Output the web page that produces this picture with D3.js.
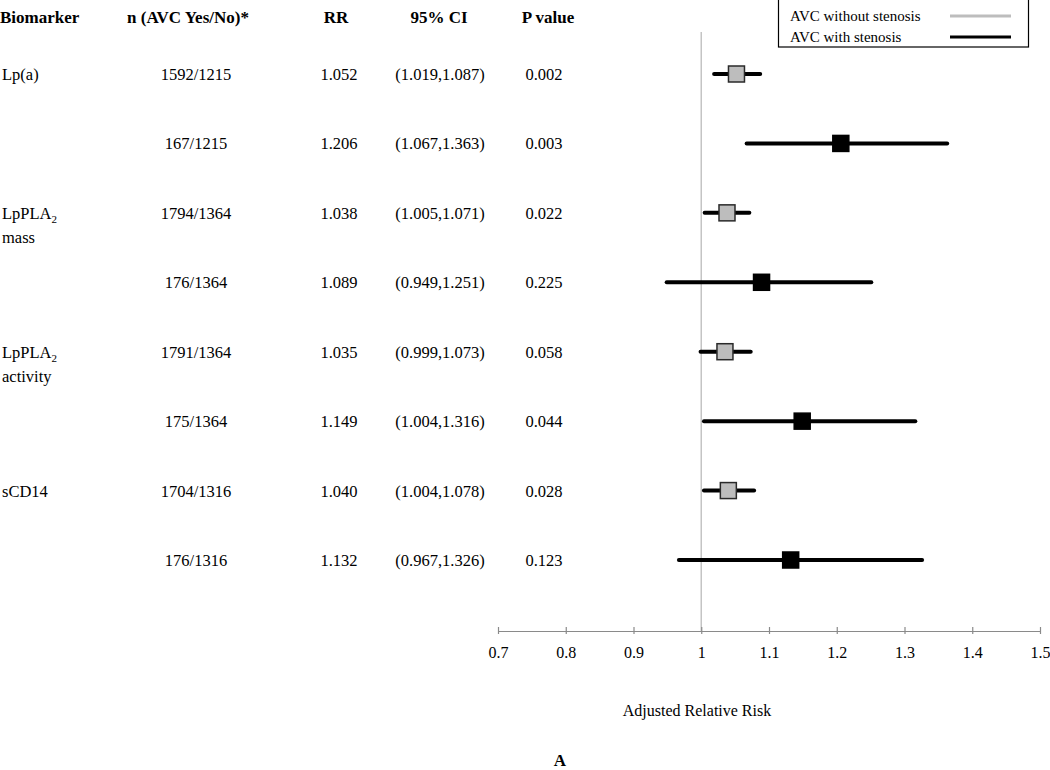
<!DOCTYPE html>
<html>
<head>
<meta charset="utf-8">
<script src="https://cdn.jsdelivr.net/npm/d3@7"></script>
<style>
  body { margin: 0; background: #fff; }
  svg { display: block; font-family: "Liberation Serif", "Times New Roman", serif; }
</style>
</head>
<body>
<svg id="chart" width="1050" height="770"></svg>
<script>
// data
const rowKeys = ["lpa1", "lpa2", "mass1", "mass2", "act1", "act2", "cd1", "cd2"];
const biomarkerLines = [["Lp(a)"], null, ["LpPLA_2", "mass"], null, ["LpPLA_2", "activity"], null, ["sCD14"], null];
const groupOfRow = [0, 1, 0, 1, 0, 1, 0, 1];
const nCounts = ["1592/1215", "167/1215", "1794/1364", "176/1364", "1791/1364", "175/1364", "1704/1316", "176/1316"];
const rr = [1.052, 1.206, 1.038, 1.089, 1.035, 1.149, 1.040, 1.132];
const ciLow = [1.019, 1.067, 1.005, 0.949, 0.999, 1.004, 1.004, 0.967];
const ciHigh = [1.087, 1.363, 1.071, 1.251, 1.073, 1.316, 1.078, 1.326];
const pValues = ["0.002", "0.003", "0.022", "0.225", "0.058", "0.044", "0.028", "0.123"];
const headers = ["Biomarker", "n (AVC Yes/No)*", "RR", "95% CI", "P value"];
const groups = ["AVC without stenosis", "AVC with stenosis"];
const xTicks = [0.7, 0.8, 0.9, 1, 1.1, 1.2, 1.3, 1.4, 1.5];

const params = {
  axisY: 631,
  refTop: 32,
  squareSize: 16,
  fills: ["#bdbdbd", "#000"],
  legendLine: ["#bdbdbd", "#000"],
  cols: { n: 196, rr: 339, ci: 440, p: 544 },
  headX: [0, 188, 336, 439, 548]
};

const svg = d3.select("#chart");

const x = d3.scaleLinear().domain([0.7, 1.5]).range([498, 1040]);
const y = d3.scalePoint().domain(rowKeys).range([74, 560]);

// header
svg.append("g").selectAll("text")
  .data(headers)
  .join("text")
    .attr("x", (d, i) => params.headX[i])
    .attr("y", 23)
    .attr("text-anchor", (d, i) => i === 0 ? "start" : "middle")
    .attr("font-weight", "bold")
    .attr("font-size", 17)
    .text(d => d);

// biomarker labels (with subscripts)
const labels = svg.append("g").attr("font-size", 16.5);
biomarkerLines.forEach((lines, i) => {
  if (!lines) return;
  lines.forEach((line, j) => {
    const t = labels.append("text")
      .attr("x", 2)
      .attr("y", y(rowKeys[i]) + 6 + j * 24);
    const parts = line.split("_");
    t.append("tspan").text(parts[0]);
    if (parts[1]) t.append("tspan").attr("font-size", 11).attr("dy", 4).text(parts[1]);
  });
});

// table columns
const table = svg.append("g").attr("font-size", 16.5).attr("text-anchor", "middle");
const f3 = d3.format(".3f");
const colData = [
  [params.cols.n, nCounts],
  [params.cols.rr, rr.map(f3)],
  [params.cols.ci, ciLow.map((d, i) => `(${f3(d)},${f3(ciHigh[i])})`)],
  [params.cols.p, pValues]
];
colData.forEach(([cx, vals]) => {
  table.append("g").selectAll("text")
    .data(vals)
    .join("text")
      .attr("x", cx)
      .attr("y", (d, i) => y(rowKeys[i]) + 6)
      .text(d => d);
});

// reference line at 1
svg.append("line")
  .attr("x1", x(1)).attr("x2", x(1))
  .attr("y1", params.refTop).attr("y2", params.axisY)
  .attr("stroke", "#c4c4c4")
  .attr("stroke-width", 1.5);

// x axis
const axis = svg.append("g")
  .attr("transform", `translate(0,${params.axisY})`)
  .call(d3.axisBottom(x).tickValues(xTicks).tickFormat(d3.format("")).tickSize(4).tickSizeOuter(0).tickPadding(12));
axis.select(".domain").attr("stroke", "#8a8a8a").attr("stroke-width", 1.2);
axis.selectAll(".tick line").attr("y1", -4).attr("y2", 3).attr("stroke", "#8a8a8a").attr("stroke-width", 1.2);
axis.selectAll(".tick text")
  .attr("font-family", "Liberation Serif, serif")
  .attr("font-size", 16)
  .attr("fill", "#000");

svg.append("text")
  .attr("x", 697).attr("y", 716)
  .attr("text-anchor", "middle")
  .attr("font-size", 16)
  .text("Adjusted Relative Risk");

svg.append("text")
  .attr("x", 560).attr("y", 766)
  .attr("text-anchor", "middle")
  .attr("font-weight", "bold")
  .attr("font-size", 17)
  .text("A");

// CI lines
svg.append("g").selectAll("line")
  .data(rowKeys)
  .join("line")
    .attr("x1", (d, i) => x(ciLow[i]))
    .attr("x2", (d, i) => x(ciHigh[i]))
    .attr("y1", d => y(d))
    .attr("y2", d => y(d))
    .attr("stroke", "#000")
    .attr("stroke-width", 4)
    .attr("stroke-linecap", "round");

// point estimates
const s = params.squareSize;
svg.append("g").selectAll("rect")
  .data(rowKeys)
  .join("rect")
    .attr("x", (d, i) => x(rr[i]) - s / 2)
    .attr("y", d => y(d) - s / 2)
    .attr("width", s)
    .attr("height", s)
    .attr("fill", (d, i) => params.fills[groupOfRow[i]])
    .attr("stroke", (d, i) => groupOfRow[i] === 0 ? "#2a2a2a" : "#000")
    .attr("stroke-width", 1.5);

// legend
const legend = svg.append("g");
legend.append("rect")
  .attr("x", 778.5).attr("y", -1)
  .attr("width", 250).attr("height", 48)
  .attr("fill", "#fff")
  .attr("stroke", "#000")
  .attr("stroke-width", 1.2);
groups.forEach((g, i) => {
  const ly = 16 + i * 21;
  legend.append("text")
    .attr("x", 790).attr("y", ly + 5)
    .attr("font-size", 15)
    .text(g);
  legend.append("line")
    .attr("x1", 950).attr("x2", 1011)
    .attr("y1", ly).attr("y2", ly)
    .attr("stroke", params.legendLine[i])
    .attr("stroke-width", 3);
});
</script>
</body>
</html>
